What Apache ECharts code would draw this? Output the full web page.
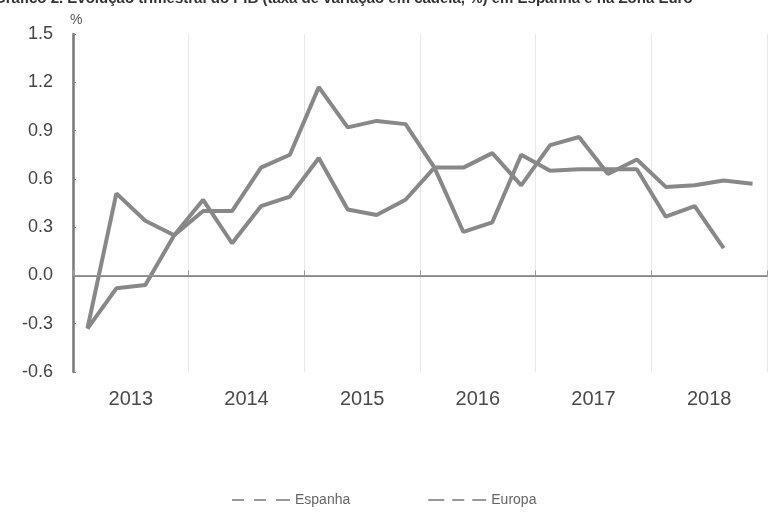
<!DOCTYPE html>
<html>
<head>
<meta charset="utf-8">
<script src="https://cdn.jsdelivr.net/npm/echarts@6/dist/echarts.min.js"></script>
<style>html,body{margin:0;padding:0;background:#fff;}#c{width:772px;height:517px;}</style>
</head>
<body>
<div id="c"></div>
<script>
var years = ['2013', '2014', '2015', '2016', '2017', '2018'];
var quarters = ['2013T1','2013T2','2013T3','2013T4','2014T1','2014T2','2014T3','2014T4',
                '2015T1','2015T2','2015T3','2015T4','2016T1','2016T2','2016T3','2016T4',
                '2017T1','2017T2','2017T3','2017T4','2018T1','2018T2','2018T3','2018T4'];
var espanha = [-0.33, -0.08, -0.06, 0.25, 0.40, 0.40, 0.67, 0.75,
               1.17, 0.92, 0.96, 0.94, 0.67, 0.67, 0.76, 0.56,
               0.81, 0.86, 0.63, 0.72, 0.55, 0.56, 0.59, 0.57];
var europa  = [-0.33, 0.51, 0.34, 0.25, 0.47, 0.20, 0.43, 0.49,
               0.73, 0.41, 0.375, 0.47, 0.67, 0.27, 0.33, 0.75,
               0.65, 0.66, 0.66, 0.66, 0.365, 0.43, 0.17, null];
var yTicks = {min: -0.6, max: 1.5, step: 0.3};
var titleText = 'Gráfico 2. Evolução trimestral do PIB (taxa de variação em cadeia, %) em Espanha e na Zona Euro';

var chart = echarts.init(document.getElementById('c'), null, {renderer: 'canvas'});
var lineColor = '#888888';
chart.setOption({
  backgroundColor: '#ffffff',
  animation: false,
  textStyle: {fontFamily: 'Liberation Sans, Arial, sans-serif'},
  graphic: [
    {type: 'text', left: -6, top: -9, style: {text: titleText, font: 'bold 15px "Liberation Sans", Arial, sans-serif', fill: '#333'}},
    {type: 'text', left: 70, top: 13, style: {text: '%', font: '14px "Liberation Sans", Arial, sans-serif', fill: '#555'}}
  ],
  grid: {left: 73, right: 5, top: 34, bottom: 145, containLabel: false},
  legend: {
    left: 227, top: 488,
    itemWidth: 58, itemHeight: 14, itemGap: 78,
    textStyle: {fontSize: 14, color: '#666'},
    data: [
      {name: 'Espanha', icon: 'path://M0,6H12V8H0Z M22,6H34V8H22Z M44,6H58V8H44Z', itemStyle: {color: '#999'}},
      {name: 'Europa', icon: 'path://M0,6H16V8H0Z M24,6H36V8H24Z M44,6H58V8H44Z', itemStyle: {color: '#999'}}
    ]
  },
  xAxis: [
    {
      type: 'category', data: years, boundaryGap: true, position: 'bottom',
      axisLine: {lineStyle: {color: '#888', width: 2}},
      axisTick: {show: true, inside: true, length: 5, lineStyle: {color: '#999'}},
      axisLabel: {margin: 17, fontSize: 20, color: '#4a4a4a'},
      splitLine: {show: true, lineStyle: {color: '#e8e8e8', width: 1}}
    },
    {
      type: 'category', data: quarters, boundaryGap: true, show: false
    }
  ],
  yAxis: {
    type: 'value', min: yTicks.min, max: yTicks.max, interval: yTicks.step,
    axisLine: {show: true, lineStyle: {color: '#777', width: 2.5}},
    axisTick: {show: true, inside: true, length: 3, lineStyle: {color: '#888'}},
    axisLabel: {margin: 20, fontSize: 18, color: '#444', formatter: function (v) { return v.toFixed(1); }},
    splitLine: {show: false}
  },
  series: [
    {
      name: 'Espanha', type: 'line', xAxisIndex: 1, data: espanha,
      symbol: 'none', lineStyle: {color: lineColor, width: 4}, itemStyle: {color: lineColor},
      markLine: {
        silent: true, symbol: 'none', label: {show: false},
        lineStyle: {color: '#999', width: 1, type: 'solid'},
        data: [{yAxis: 0}]
      },
      z: 3
    },
    {
      name: 'Europa', type: 'line', xAxisIndex: 1, data: europa,
      symbol: 'none', lineStyle: {color: lineColor, width: 4}, itemStyle: {color: lineColor},
      z: 3
    }
  ]
});
</script>
</body>
</html>
